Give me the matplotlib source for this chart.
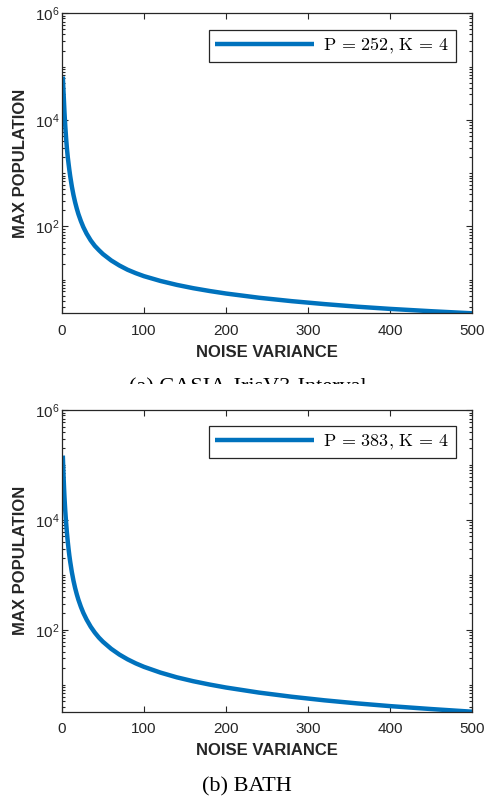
import matplotlib.pyplot as plt
from matplotlib.ticker import LogLocator, NullFormatter, FixedLocator
from matplotlib.patches import Rectangle

plt.rcParams['font.family'] = ['Liberation Sans', 'DejaVu Sans']
plt.rcParams['mathtext.fontset'] = 'cm'

# noise variance samples
noise = [1, 1.5, 2, 2.5, 3, 3.5, 4, 5, 6, 7, 8, 9, 10, 12, 14, 16, 18, 20,
         23, 26, 30, 35, 40, 45, 50, 60, 70, 80, 90, 100, 120, 140, 160,
         180, 200, 240, 280, 320, 360, 400, 450, 500]
pop_casia = [6.5e4, 4.3e4, 3.0e4, 2.05e4, 1.4e4, 1.02e4, 7.6e3, 4.5e3,
             2.9e3, 2.02e3, 1.5e3, 1135, 877, 561, 387, 283, 216, 170,
             126, 97, 73, 54.5, 43, 35.7, 30.1, 22.9, 18.4, 15.3, 13.2,
             11.6, 9.44, 7.96, 6.90, 6.11, 5.48, 4.57, 3.94, 3.47, 3.10,
             2.82, 2.55, 2.33]
pop_bath = [1.48e5, 9.1e4, 5.75e4, 3.8e4, 2.63e4, 1.93e4, 1.45e4, 8.85e3,
            5.82e3, 4.06e3, 2.95e3, 2.22e3, 1.73e3, 1120, 780, 575, 443,
            352, 262, 203, 153, 113.5, 88.7, 71.9, 60.3, 44.9, 35.3, 28.9,
            24.4, 21.1, 16.6, 13.6, 11.56, 10.05, 8.87, 7.18, 6.03, 5.19,
            4.56, 4.07, 3.60, 3.22]

legend_labels = [r'$\mathrm{P}\,=\,252,\,\mathrm{K}\,=\,4$',
                 r'$\mathrm{P}\,=\,383,\,\mathrm{K}\,=\,4$']
captions = ['(a) CASIA-IrisV3-Interval', '(b) BATH']
xticks = [0, 100, 200, 300, 400, 500]

blue = '#0072BD'
dark = '#262626'

fig = plt.figure(figsize=(4.84, 7.97), dpi=100)

W, H = 484.0, 797.0
boxes = [(62, 13.3, 472, 313.3), (62, 410, 472, 711.7)]
series = [pop_casia, pop_bath]

for (x0, y0, x1, y1), pop, lab in zip(boxes, series, legend_labels):
    ax = fig.add_axes([x0 / W, 1 - y1 / H, (x1 - x0) / W, (y1 - y0) / H])
    ax.plot(noise, pop, color=blue, lw=3.2, solid_capstyle='butt', label=lab)
    ax.set_yscale('log')
    ax.set_xlim(0, 500)
    ax.set_ylim(min(pop), 1e6)
    ax.xaxis.set_major_locator(FixedLocator(xticks))
    ax.yaxis.set_major_locator(LogLocator(base=100))
    ax.yaxis.set_minor_locator(LogLocator(base=10, subs=range(1, 10), numticks=20))
    ax.yaxis.set_minor_formatter(NullFormatter())
    ax.tick_params(which='both', direction='in', top=True, right=True,
                   colors=dark, labelsize=11, width=0.8)
    ax.tick_params(which='major', length=4)
    ax.tick_params(which='minor', length=2)
    ax.tick_params(axis='x', pad=7.5)
    ax.tick_params(axis='y', pad=2)
    for s in ax.spines.values():
        s.set_color(dark)
        s.set_linewidth(0.9)
    ax.set_xlabel('NOISE VARIANCE', fontsize=12, fontweight='bold',
                  color=dark, labelpad=5)
    ax.set_ylabel('MAX POPULATION', fontsize=12, fontweight='bold',
                  color=dark, labelpad=5)
    leg = ax.legend(loc='upper right', fontsize=13, handlelength=5.5,
                    fancybox=False, framealpha=1, edgecolor=dark,
                    borderaxespad=0.9, borderpad=0.35, handletextpad=0.5)
    leg.get_frame().set_linewidth(0.9)

fig.text(0.512, 1 - 392 / H, captions[0], ha='center', va='baseline',
         fontsize=16, family='Liberation Serif')
fig.text(0.51, 1 - 791 / H, captions[1], ha='center', va='baseline',
         fontsize=16, family='Liberation Serif')
# the lower panel hides the bottom part of the first caption
fig.add_artist(Rectangle((0, 1 - 400 / H), 1, 16.5 / H, transform=fig.transFigure,
                         facecolor='white', edgecolor='none', zorder=10))

fig.savefig('out.png', dpi=100)
